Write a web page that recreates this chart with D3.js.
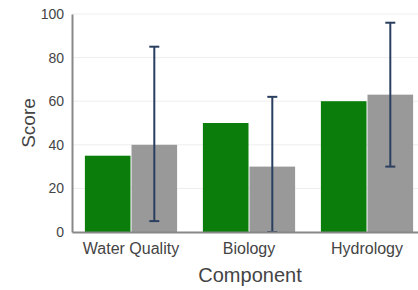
<!DOCTYPE html>
<html>
<head>
<meta charset="utf-8">
<script src="https://cdn.jsdelivr.net/npm/d3@7"></script>
<style>
  body { margin: 0; background: #fff; }
  svg { display: block; font-family: "Liberation Sans", Arial, sans-serif; }
</style>
</head>
<body>
<svg width="418" height="290"></svg>
<script>
// chart data
let components = ["Water Quality", "Biology", "Hydrology"];
let series = ["Condition", "Reference"];
let conditionScores = [35, 50, 60];
let referenceScores = [40, 30, 63];
let refErrLow = [5, 0, 30];
let refErrHigh = [85, 62, 96];
let yTicks = [0, 20, 40, 60, 80, 100];

let colors = {"Condition": "#0a7d0a", "Reference": "#999999"};

let svg = d3.select("svg"),
    margin = {top: 14, right: -8, bottom: 58, left: 72},
    width = +svg.attr("width") - margin.left - margin.right,
    height = +svg.attr("height") - margin.top - margin.bottom,
    g = svg.append("g").attr("transform", "translate(" + margin.left + "," + margin.top + ")");

let rows = components.map(function(c, i) {
  return {comp: c, Condition: conditionScores[i], Reference: referenceScores[i], lo: refErrLow[i], hi: refErrHigh[i]};
});

let x0 = d3.scaleBand()
    .domain(components)
    .range([0, width])
    .paddingInner(0.21)
    .paddingOuter(0.105);

let x1 = d3.scaleBand()
    .domain(series)
    .range([0, x0.bandwidth()])
    .padding(0);

let y = d3.scaleLinear()
    .domain([0, 100])
    .range([height, 0]);

// gridlines
g.append("g")
  .selectAll("line")
  .data(yTicks.slice(1))
  .enter().append("line")
    .attr("x1", 0)
    .attr("x2", width)
    .attr("y1", function(d) { return y(d); })
    .attr("y2", function(d) { return y(d); })
    .attr("stroke", "#eeeeee")
    .attr("stroke-width", 1);

// bars
let groups = g.append("g")
  .selectAll("g")
  .data(rows)
  .enter().append("g")
    .attr("transform", function(d) { return "translate(" + x0(d.comp) + ",0)"; });

groups.selectAll("rect")
  .data(function(d) { return series.map(function(k) { return {key: k, value: d[k]}; }); })
  .enter().append("rect")
    .attr("x", function(d) { return x1(d.key) + 0.5; })
    .attr("y", function(d) { return y(d.value); })
    .attr("width", x1.bandwidth() - 1)
    .attr("height", function(d) { return y(0) - y(d.value); })
    .attr("fill", function(d) { return colors[d.key]; });

// error bars on reference
let eb = groups.append("g")
    .attr("stroke", "#2a3f5f")
    .attr("stroke-width", 2);
let ebx = function() { return x1("Reference") + x1.bandwidth() / 2; };
eb.append("line")
    .attr("x1", ebx).attr("x2", ebx)
    .attr("y1", function(d) { return y(d.lo); })
    .attr("y2", function(d) { return y(d.hi); });
eb.append("line")
    .attr("x1", function() { return ebx() - 5; }).attr("x2", function() { return ebx() + 5; })
    .attr("y1", function(d) { return y(d.hi); })
    .attr("y2", function(d) { return y(d.hi); });
eb.append("line")
    .attr("x1", function() { return ebx() - 5; }).attr("x2", function() { return ebx() + 5; })
    .attr("y1", function(d) { return y(d.lo); })
    .attr("y2", function(d) { return y(d.lo); });

// axes
let xAxis = g.append("g")
    .attr("transform", "translate(0," + height + ")")
    .call(d3.axisBottom(x0).tickSize(0).tickPadding(11));
xAxis.select(".domain").attr("stroke", "#888").attr("stroke-width", 2);
xAxis.selectAll("text").attr("font-size", 16).attr("fill", "#444").attr("font-family", "Liberation Sans, Arial, sans-serif");

let yAxis = g.append("g")
    .call(d3.axisLeft(y).tickValues(yTicks).tickSize(0).tickPadding(8));
yAxis.select(".domain").attr("stroke", "#888").attr("stroke-width", 2);
yAxis.selectAll("text").attr("font-size", 14).attr("fill", "#444").attr("font-family", "Liberation Sans, Arial, sans-serif");

// axis titles
svg.append("text")
    .attr("x", 250)
    .attr("y", 282)
    .attr("text-anchor", "middle")
    .attr("font-size", 20)
    .attr("fill", "#444")
    .text("Component");

svg.append("text")
    .attr("transform", "translate(35,123) rotate(-90)")
    .attr("text-anchor", "middle")
    .attr("font-size", 19)
    .attr("fill", "#444")
    .text("Score");
</script>
</body>
</html>
